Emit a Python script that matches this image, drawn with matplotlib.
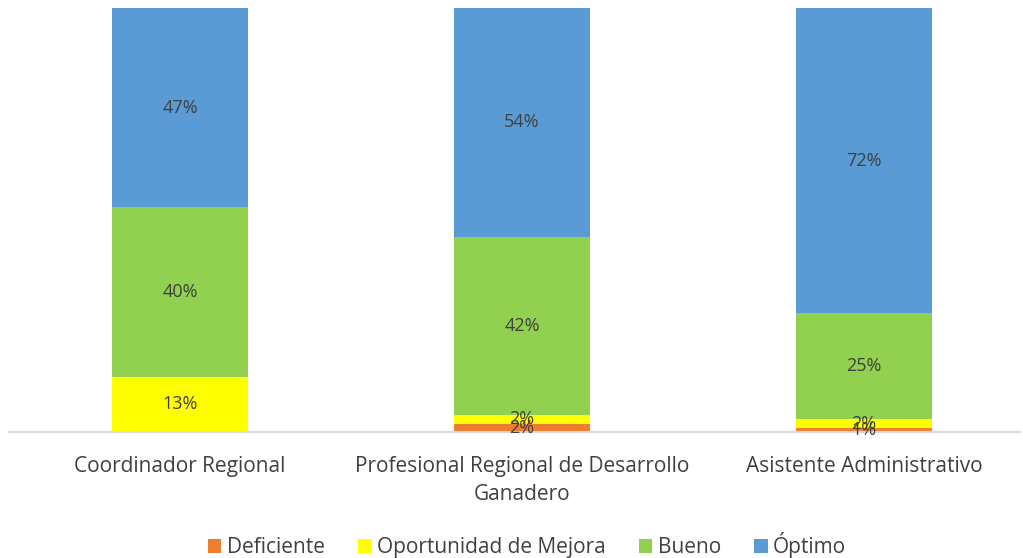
import matplotlib
matplotlib.use("Agg")
import matplotlib.pyplot as plt
from matplotlib.patches import Patch

categories = ["Coordinador Regional", "Profesional Regional de Desarrollo\nGanadero", "Asistente Administrativo"]
series_names = ["Deficiente", "Oportunidad de Mejora", "Bueno", "Óptimo"]
deficiente = [0, 2, 1]
oportunidad = [13, 2, 2]
bueno = [40, 42, 25]
optimo = [47, 54, 72]
colors = ["#ED7D31", "#FFFF00", "#92D050", "#5B9BD5"]

plt.rcParams['font.family'] = ['Open Sans', 'DejaVu Sans']
fig = plt.figure(figsize=(10.23, 5.58), dpi=100)
ax = fig.add_axes([9/1023, 126/558, 1011/1023, 424/558])

x = list(range(len(categories)))
bottom = [0, 0, 0]
for name, vals, col in zip(series_names, [deficiente, oportunidad, bueno, optimo], colors):
    ax.bar(x, vals, width=0.4, bottom=bottom, color=col, label=name)
    for i, v in enumerate(vals):
        if v > 0:
            ax.text(x[i], bottom[i] + v / 2, f"{v}%", ha="center", va="center",
                    fontsize=13, color="#404040")
    bottom = [b + v for b, v in zip(bottom, vals)]

ax.set_ylim(0, 100)
ax.set_xlim(-0.5, 2.456)
ax.set_yticks([])
ax.set_xticks(x)
ax.set_xticklabels(categories, fontsize=15, color="#404040", linespacing=1.45)
ax.tick_params(axis="x", length=0, pad=17)
for s in ["top", "right", "left"]:
    ax.spines[s].set_visible(False)
ax.spines["bottom"].set_color("#D9D9D9")
ax.spines["bottom"].set_linewidth(1.5)

handles = [Patch(facecolor=c, label=n) for n, c in zip(series_names, colors)]
fig.legend(handles=handles, loc="center", bbox_to_anchor=(527/1023, 1 - 545/558), ncol=4,
           frameon=False, fontsize=15, handlelength=0.65, handleheight=0.65,
           handletextpad=0.25, columnspacing=1.6, labelcolor="#404040")

fig.savefig("out.png", dpi=100)
